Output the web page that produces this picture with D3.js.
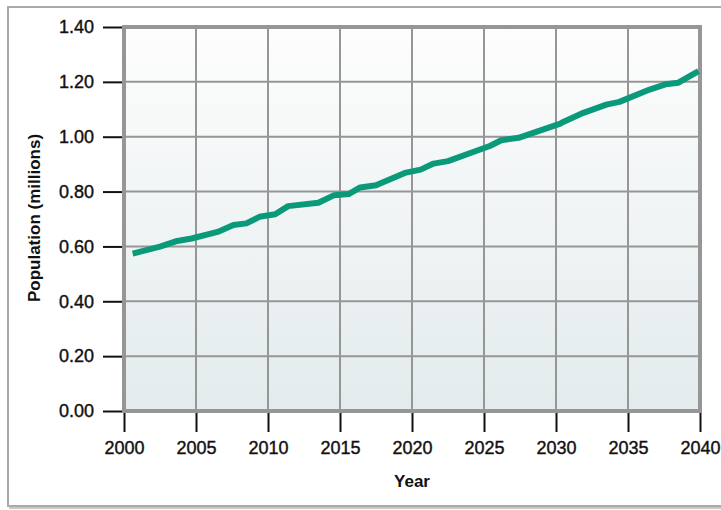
<!DOCTYPE html>
<html>
<head>
<meta charset="utf-8">
<title>Population projection</title>
<style>
  body { margin: 0; background: #fff; }
  svg { display: block; font-family: "Liberation Sans", Arial, sans-serif; }
</style>
</head>
<body>
<svg width="721" height="510"></svg>
<script src="https://d3js.org/d3.v7.min.js"></script>
<script>
// population (millions)
var years = [2000.6, 2002.5, 2003.7, 2004.7, 2006.5, 2007.6, 2008.5, 2009.4, 2010.5, 2011.4,
             2013.5, 2014.6, 2015.6, 2016.4, 2017.5, 2019.5, 2020.6, 2021.5, 2022.5, 2025.4,
             2026.2, 2027.4, 2030.3, 2030.5, 2031.9, 2033.5, 2034.4, 2036.5, 2037.6, 2038.5, 2039.9];
var population = [0.574, 0.599, 0.620, 0.629, 0.653, 0.678, 0.684, 0.708, 0.717, 0.747,
                  0.759, 0.787, 0.791, 0.815, 0.823, 0.868, 0.880, 0.902, 0.911, 0.966,
                  0.987, 0.996, 1.048, 1.054, 1.087, 1.117, 1.127, 1.172, 1.191, 1.197, 1.239];
var xTicks = [2000, 2005, 2010, 2015, 2020, 2025, 2030, 2035, 2040];
var yTicks = [0, 0.2, 0.4, 0.6, 0.8, 1.0, 1.2, 1.4];

var svg = d3.select("svg");
var margin = {top: 27, right: 21, bottom: 99, left: 124},
    width = 721 - margin.left - margin.right,
    height = 510 - margin.top - margin.bottom;

// outer box with a soft shadow
svg.append("rect").attr("x", 10).attr("y", 9).attr("width", 720).attr("height", 499)
  .attr("fill", "none").attr("stroke", "#c8c8c8").attr("stroke-width", 2);
svg.append("rect").attr("x", 8).attr("y", 7).attr("width", 720).attr("height", 499)
  .attr("fill", "#fff").attr("stroke", "#aaa").attr("stroke-width", 2);

var defs = svg.append("defs");
var grad = defs.append("linearGradient").attr("id", "bg")
  .attr("x1", 0).attr("y1", 0).attr("x2", 0).attr("y2", 1);
grad.append("stop").attr("offset", "0%").attr("stop-color", "#fdfdfd");
grad.append("stop").attr("offset", "100%").attr("stop-color", "#e3ebed");

var g = svg.append("g").attr("transform", "translate(" + margin.left + "," + margin.top + ")");

var x = d3.scaleLinear().domain([2000, 2040]).range([0, width]);
var y = d3.scaleLinear().domain([0, 1.4]).range([height, 0]);

g.append("rect").attr("width", width).attr("height", height).attr("fill", "url(#bg)");

// grid
g.selectAll(".vgrid").data(xTicks.slice(1, -1)).enter().append("line")
  .attr("x1", d => x(d)).attr("x2", d => x(d)).attr("y1", 0).attr("y2", height)
  .attr("stroke", "#969696").attr("stroke-width", 2);
g.selectAll(".hgrid").data(yTicks.slice(1, -1)).enter().append("line")
  .attr("x1", 0).attr("x2", width).attr("y1", d => y(d)).attr("y2", d => y(d))
  .attr("stroke", "#969696").attr("stroke-width", 2);

// axes
var yAxis = g.append("g").attr("transform", "translate(-2,0)")
  .call(d3.axisLeft(y).tickValues(yTicks).tickFormat(d3.format(".2f")).tickSize(19).tickPadding(9));
var xAxis = g.append("g").attr("transform", "translate(0," + (height + 2) + ")")
  .call(d3.axisBottom(x).tickValues(xTicks).tickFormat(d3.format("d")).tickSize(19).tickPadding(9));
[yAxis, xAxis].forEach(function(a) {
  a.select(".domain").remove();
  a.selectAll(".tick line").attr("stroke", "#111").attr("stroke-width", 2);
  a.selectAll(".tick text").attr("fill", "#111").attr("font-size", 18)
    .attr("stroke", "#111").attr("stroke-width", 0.4);
});

// frame
g.append("rect").attr("width", width).attr("height", height)
  .attr("fill", "none").attr("stroke", "#969696").attr("stroke-width", 4);

// the line
var line = d3.line().x((d, i) => x(years[i])).y(d => y(d));
g.append("path").datum(population).attr("d", line)
  .attr("fill", "none").attr("stroke", "#0a9a7a").attr("stroke-width", 6)
  .attr("stroke-linejoin", "round");

// titles
svg.append("text").attr("x", 412).attr("y", 487).attr("text-anchor", "middle")
  .attr("font-size", 17).attr("font-weight", "bold").attr("fill", "#111").text("Year");
svg.append("text").attr("transform", "translate(40,218) rotate(-90)").attr("text-anchor", "middle")
  .attr("font-size", 17).attr("font-weight", "bold").attr("fill", "#111").text("Population (millions)");
</script>
</body>
</html>
